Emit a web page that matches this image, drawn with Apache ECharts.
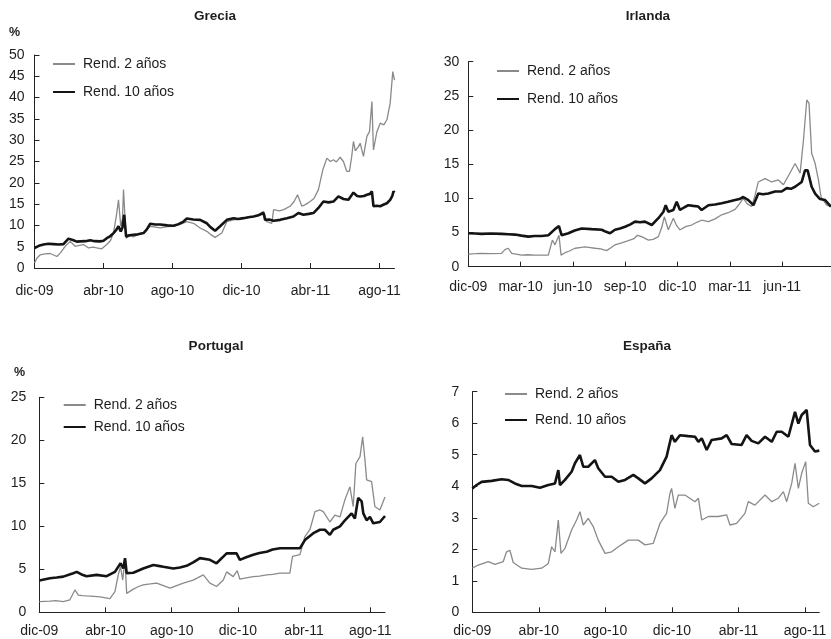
<!DOCTYPE html>
<html>
<head>
<meta charset="utf-8">
<script src="https://cdn.jsdelivr.net/npm/echarts@6/dist/echarts.min.js"></script>
<style>
  html, body { margin: 0; padding: 0; background: #fff; }
  #main { width: 831px; height: 639px; }
</style>
</head>
<body>
<div id="main"></div>
<script>
// x = months since dic-09, y = yield in %
var grecia2 = [[0,1.2],[0.14,2.3],[0.33,3.1],[0.6,3.3],[0.91,3.4],[1.3,2.7],[1.49,3.5],[1.78,5.1],[2.07,6.25],[2.36,5.1],[2.6,5.3],[2.84,5.5],[3.13,4.7],[3.4,4.9],[3.61,4.7],[3.9,4.5],[4.19,5.5],[4.4,6.4],[4.58,8.2],[4.77,12.9],[4.87,16.0],[5.0,9.8],[5.1,11.5],[5.16,18.4],[5.31,7.0],[5.5,7.6],[5.74,7.3],[6.0,7.9],[6.32,8.2],[6.71,9.8],[7.0,9.6],[7.29,9.4],[7.7,9.7],[8.06,9.8],[8.4,10.2],[8.83,10.9],[9.22,10.5],[9.6,9.4],[9.99,8.6],[10.2,7.9],[10.47,7.2],[10.86,8.2],[11.15,10.9],[11.54,11.3],[11.8,11.4],[12.12,11.7],[12.4,11.9],[12.7,12.1],[13.0,12.6],[13.28,13.3],[13.47,10.9],[13.76,10.5],[13.86,13.7],[14.2,13.4],[14.44,13.7],[14.82,14.5],[15.05,15.6],[15.25,17.2],[15.5,14.5],[15.75,15.0],[15.98,15.6],[16.2,16.3],[16.46,18.4],[16.71,23.0],[16.95,25.8],[17.15,25.0],[17.33,25.4],[17.5,24.9],[17.72,26.0],[17.91,25.0],[18.1,22.7],[18.26,22.7],[18.39,26.2],[18.49,29.7],[18.6,27.5],[18.78,28.5],[18.88,29.3],[19.07,26.2],[19.27,30.9],[19.42,32.0],[19.56,39.1],[19.65,27.7],[19.85,32.0],[20.04,34.0],[20.25,33.6],[20.43,34.8],[20.62,38.7],[20.77,46.1],[20.87,44.1]];
var grecia10 = [[0,4.7],[0.25,5.2],[0.52,5.5],[0.8,5.7],[1.1,5.6],[1.4,5.5],[1.68,5.6],[1.97,6.9],[2.26,6.5],[2.45,6.2],[2.65,6.25],[2.95,6.3],[3.23,6.5],[3.5,6.3],[3.81,6.25],[4.0,6.4],[4.19,7.0],[4.4,7.5],[4.58,8.2],[4.75,9.0],[4.87,9.8],[5.0,8.6],[5.1,9.5],[5.2,12.5],[5.31,7.4],[5.5,7.7],[5.74,7.8],[6.0,7.9],[6.32,8.2],[6.5,9.0],[6.71,10.4],[7.0,10.2],[7.29,10.2],[7.7,10.0],[8.06,9.9],[8.35,10.3],[8.64,10.9],[8.83,11.6],[9.2,11.4],[9.6,11.3],[9.99,10.5],[10.2,9.6],[10.47,8.75],[10.76,9.8],[11.15,11.3],[11.54,11.7],[11.8,11.5],[12.12,11.7],[12.4,11.9],[12.7,12.1],[13.0,12.4],[13.28,12.9],[13.37,11.3],[13.6,11.4],[13.86,11.1],[14.24,11.3],[14.63,11.7],[15.01,12.1],[15.3,12.9],[15.59,12.5],[15.9,12.7],[16.17,12.9],[16.46,14.1],[16.75,15.6],[17.05,15.4],[17.33,15.6],[17.62,16.8],[17.91,16.2],[18.2,16.0],[18.49,17.7],[18.7,16.9],[18.88,16.8],[19.1,16.9],[19.27,17.2],[19.45,17.4],[19.56,18.0],[19.65,14.5],[19.85,14.6],[20.04,14.5],[20.25,14.9],[20.43,15.2],[20.62,16.0],[20.75,17.0],[20.81,18.0],[20.87,17.7]];

var irlanda2 = [[0,1.85],[0.4,1.9],[0.76,1.95],[1.3,1.9],[1.91,1.95],[2.1,2.5],[2.29,2.7],[2.49,1.95],[3.06,1.7],[3.4,1.75],[3.82,1.7],[4.2,1.7],[4.59,1.7],[4.82,3.9],[4.97,3.2],[5.2,4.6],[5.32,1.7],[5.55,2.05],[5.8,2.3],[6.12,2.7],[6.4,2.8],[6.69,2.9],[7.0,2.8],[7.27,2.7],[7.6,2.6],[7.93,2.35],[8.2,2.8],[8.41,3.2],[8.8,3.5],[9.18,3.8],[9.5,4.1],[9.7,4.6],[9.94,4.4],[10.33,3.9],[10.6,4.0],[10.9,4.4],[11.1,5.8],[11.24,7.3],[11.47,5.4],[11.76,7.1],[11.95,6.0],[12.14,5.4],[12.5,5.9],[12.81,6.1],[13.1,6.5],[13.38,6.8],[13.77,6.6],[14.15,7.0],[14.53,7.6],[14.9,7.9],[15.3,8.4],[15.55,9.2],[15.77,10.0],[16.0,9.2],[16.25,8.8],[16.45,10.5],[16.63,12.4],[17.02,12.9],[17.4,12.4],[17.78,12.7],[18.07,12.0],[18.4,13.5],[18.74,15.1],[19.03,13.7],[19.12,16.0],[19.22,18.5],[19.41,24.4],[19.54,23.9],[19.69,16.6],[19.89,15.1],[20.08,12.7],[20.23,10.2],[20.55,9.0],[20.8,8.8]];
var irlanda10 = [[0,4.9],[0.4,4.85],[0.76,4.8],[1.3,4.85],[1.91,4.8],[2.3,4.75],[2.68,4.7],[3.05,4.55],[3.44,4.4],[3.8,4.5],[4.21,4.5],[4.59,4.6],[4.97,5.5],[5.2,5.95],[5.35,4.6],[5.74,4.9],[6.1,5.3],[6.5,5.6],[7.07,5.5],[7.65,5.4],[7.9,5.1],[8.13,4.9],[8.41,5.4],[8.7,5.6],[8.99,5.85],[9.3,6.2],[9.56,6.6],[9.85,6.5],[10.13,6.6],[10.52,6.1],[10.9,7.1],[11.19,8.05],[11.32,9.0],[11.47,8.05],[11.76,8.3],[11.95,9.5],[12.14,8.3],[12.4,8.7],[12.62,9.0],[12.9,8.9],[13.19,8.8],[13.38,8.3],[13.77,9.0],[14.15,9.1],[14.53,9.3],[14.9,9.5],[15.3,9.75],[15.55,9.9],[15.77,10.2],[16.06,9.75],[16.35,9.0],[16.63,10.7],[16.9,10.6],[17.21,10.7],[17.59,11.0],[17.97,11.0],[18.26,11.5],[18.5,11.4],[18.74,11.7],[19.12,12.4],[19.31,14.1],[19.46,14.1],[19.69,11.7],[19.89,10.7],[20.17,9.9],[20.46,9.75],[20.8,8.8]];

var portugal2 = [[0,1.25],[0.64,1.3],[1.0,1.35],[1.45,1.25],[1.85,1.45],[2.15,2.6],[2.36,2.0],[2.6,1.95],[2.86,1.9],[3.3,1.85],[3.67,1.8],[4.27,1.6],[4.57,2.4],[4.77,4.35],[4.91,5.3],[5.04,3.75],[5.18,6.1],[5.28,2.2],[5.68,2.7],[6.0,3.0],[6.28,3.2],[6.7,3.3],[7.09,3.4],[7.5,3.1],[7.9,2.8],[8.3,3.1],[8.7,3.4],[9.3,3.75],[9.91,4.35],[10.31,3.4],[10.71,3.0],[11.12,3.75],[11.32,4.7],[11.72,4.15],[11.96,4.85],[12.12,3.85],[12.5,4.0],[12.93,4.15],[13.3,4.2],[13.74,4.35],[14.1,4.4],[14.54,4.55],[15.14,4.55],[15.3,6.5],[15.75,6.7],[16.05,8.8],[16.35,9.6],[16.66,11.7],[16.96,11.9],[17.16,11.7],[17.56,10.5],[17.86,11.3],[18.17,11.1],[18.47,13.1],[18.77,14.6],[18.97,12.3],[19.13,17.3],[19.38,18.1],[19.54,20.4],[19.68,17.7],[19.78,15.4],[20.08,15.2],[20.28,12.3],[20.58,11.9],[20.89,13.4]];
var portugal10 = [[0,3.7],[0.64,3.95],[1.05,4.05],[1.45,4.15],[2.05,4.55],[2.26,4.7],[2.55,4.4],[2.86,4.2],[3.46,4.35],[4.07,4.2],[4.57,4.7],[4.91,5.7],[5.08,5.1],[5.18,6.3],[5.28,4.55],[5.68,4.6],[6.28,5.1],[6.89,5.5],[7.2,5.4],[7.49,5.3],[8.1,5.1],[8.5,5.2],[8.9,5.4],[9.3,5.8],[9.71,6.3],[10.31,6.1],[10.71,5.7],[11.32,6.85],[11.92,6.85],[12.12,6.1],[12.5,6.4],[12.93,6.7],[13.3,6.9],[13.74,7.05],[14.1,7.3],[14.54,7.45],[15.35,7.45],[15.75,7.45],[16.05,8.4],[16.56,9.2],[16.96,9.6],[17.26,9.6],[17.56,9.0],[17.76,9.6],[18.17,10.0],[18.47,10.7],[18.87,11.5],[19.07,10.9],[19.27,13.3],[19.48,12.9],[19.58,11.5],[19.78,10.7],[19.98,11.1],[20.18,10.35],[20.58,10.5],[20.89,11.2]];

var espana2 = [[0,1.4],[0.36,1.5],[0.96,1.61],[1.36,1.52],[1.86,1.61],[2.06,1.92],[2.26,1.97],[2.46,1.58],[2.97,1.4],[3.57,1.36],[4.17,1.4],[4.57,1.55],[4.77,2.08],[4.97,1.92],[5.17,2.93],[5.33,1.87],[5.57,2.03],[5.97,2.61],[6.27,2.93],[6.47,3.19],[6.67,2.77],[6.97,2.98],[7.27,2.72],[7.57,2.29],[7.98,1.87],[8.38,1.92],[8.78,2.08],[9.38,2.29],[9.98,2.29],[10.38,2.14],[10.88,2.19],[11.28,2.82],[11.68,3.14],[11.88,3.77],[11.98,3.93],[12.18,3.3],[12.38,3.72],[12.78,3.72],[13.39,3.51],[13.59,3.62],[13.79,2.93],[14.19,3.04],[14.79,3.04],[15.29,3.09],[15.49,2.77],[15.89,2.82],[16.39,3.14],[16.59,3.51],[16.99,3.4],[17.6,3.72],[18.0,3.51],[18.4,3.62],[18.7,3.83],[18.9,3.51],[19.2,4.09],[19.4,4.73],[19.6,3.93],[19.8,4.41],[20.04,4.78],[20.2,3.46],[20.5,3.35],[20.86,3.46]];
var espana10 = [[0,3.93],[0.26,4.04],[0.56,4.14],[1.16,4.17],[1.76,4.22],[2.16,4.2],[2.56,4.09],[2.97,4.01],[3.57,4.01],[4.07,3.95],[4.57,4.04],[4.97,4.09],[5.17,4.51],[5.27,4.04],[5.57,4.2],[5.97,4.46],[6.17,4.73],[6.47,4.99],[6.67,4.62],[6.97,4.62],[7.37,4.83],[7.57,4.57],[7.98,4.3],[8.38,4.3],[8.78,4.14],[9.18,4.2],[9.68,4.36],[9.98,4.25],[10.38,4.09],[10.78,4.25],[11.28,4.51],[11.68,4.94],[11.98,5.62],[12.18,5.41],[12.48,5.62],[12.99,5.59],[13.39,5.57],[13.59,5.41],[13.79,5.52],[14.09,5.15],[14.39,5.47],[14.99,5.52],[15.29,5.62],[15.59,5.34],[16.19,5.31],[16.49,5.62],[16.79,5.44],[17.19,5.36],[17.6,5.57],[18.0,5.41],[18.3,5.73],[18.6,5.73],[19.0,5.57],[19.4,6.36],[19.6,5.99],[19.8,6.26],[20.1,6.42],[20.3,5.31],[20.6,5.1],[20.86,5.13]];

var ticks4 = [0, 4, 8, 12, 16, 20];
var labels4 = ['dic-09', 'abr-10', 'ago-10', 'dic-10', 'abr-11', 'ago-11'];
var ticks3 = [0, 3, 6, 9, 12, 15, 18];
var labels3 = ['dic-09', 'mar-10', 'jun-10', 'sep-10', 'dic-10', 'mar-11', 'jun-11'];

var FONT = 'Liberation Sans, Arial, sans-serif';
var GRAY = '#8a8a8a';
var BLACK = '#141414';
var TXT = '#1e1e1e';

var panels = [
  { name: 'Grecia', s2: grecia2, s10: grecia10, ticks: ticks4, labels: labels4, xmax: 20.87, ymax: 50, yint: 5,
    grid: { left: 34.5, top: 55, width: 360, height: 213 }, lblMargin: 16, yMargin: 10,
    title: [215, 9], pct: [9, 26], legend: { left: 52, top: 57, itemGap: 14 } },
  { name: 'Irlanda', s2: irlanda2, s10: irlanda10, ticks: ticks3, labels: labels3, xmax: 20.8, ymax: 30, yint: 5,
    grid: { left: 468.3, top: 61.7, width: 362.7, height: 205 }, lblMargin: 13, yMargin: 9,
    title: [648, 9], pct: null, legend: { left: 496, top: 64, itemGap: 14 } },
  { name: 'Portugal', s2: portugal2, s10: portugal10, ticks: ticks4, labels: labels4, xmax: 20.89, ymax: 25, yint: 5,
    grid: { left: 39.3, top: 397.3, width: 345.7, height: 215 }, lblMargin: 12, yMargin: 13,
    title: [216, 339], pct: [14, 366], legend: { left: 62.7, top: 398, itemGap: 8 } },
  { name: 'España', s2: espana2, s10: espana10, ticks: ticks4, labels: labels4, xmax: 20.86, ymax: 7, yint: 1,
    grid: { left: 472.3, top: 391.7, width: 347, height: 220.6 }, lblMargin: 12, yMargin: 13,
    title: [647, 339], pct: null, legend: { left: 504, top: 387, itemGap: 12 } }
];

var option = {
  animation: false,
  backgroundColor: '#fff',
  title: [], legend: [], grid: [], xAxis: [], yAxis: [], series: []
};

panels.forEach(function (p, i) {
  option.title.push({
    text: p.name, left: p.title[0], top: p.title[1], textAlign: 'center', padding: 0,
    textStyle: { fontFamily: FONT, fontSize: 13.5, fontWeight: 'bold', color: TXT }
  });
  if (p.pct) {
    option.title.push({
      text: '%', left: p.pct[0], top: p.pct[1], padding: 0,
      textStyle: { fontFamily: FONT, fontSize: 12.5, fontWeight: 'bold', color: TXT }
    });
  }
  option.grid.push(p.grid);
  option.legend.push({
    left: p.legend.left, top: p.legend.top, orient: 'vertical', itemGap: p.legend.itemGap,
    itemWidth: 22, itemHeight: 14, selectedMode: false, padding: 0,
    itemStyle: { opacity: 0 },
    textStyle: { fontFamily: FONT, fontSize: 14, color: TXT, padding: [0, 0, 0, 3] },
    data: ['Rend. 2 años', 'Rend. 10 años']
  });
  var ticks = p.ticks, labels = p.labels;
  option.xAxis.push({
    type: 'value', gridIndex: i, min: 0, max: p.xmax,
    splitLine: { show: false },
    axisLine: { show: true, lineStyle: { color: '#222', width: 1 } },
    axisTick: { show: true, inside: true, length: 5, customValues: ticks, lineStyle: { color: '#222' } },
    axisLabel: {
      customValues: ticks, margin: p.lblMargin, color: TXT, fontFamily: FONT, fontSize: 14,
      formatter: function (v) { return labels[ticks.indexOf(v)] || ''; }
    }
  });
  option.yAxis.push({
    type: 'value', gridIndex: i, min: 0, max: p.ymax, interval: p.yint,
    splitLine: { show: false },
    axisLine: { show: true, lineStyle: { color: '#222', width: 1 } },
    axisTick: { show: true, inside: true, length: 5, lineStyle: { color: '#222' } },
    axisLabel: { margin: p.yMargin, color: TXT, fontFamily: FONT, fontSize: 14 }
  });
  option.series.push({
    name: 'Rend. 2 años', type: 'line', xAxisIndex: i, yAxisIndex: i,
    data: p.s2, symbol: 'none', lineStyle: { color: GRAY, width: 1.3 }, itemStyle: { color: GRAY }
  });
  option.series.push({
    name: 'Rend. 10 años', type: 'line', xAxisIndex: i, yAxisIndex: i,
    data: p.s10, symbol: 'none', lineStyle: { color: BLACK, width: 2.6 }, itemStyle: { color: BLACK }
  });
});

var chart = echarts.init(document.getElementById('main'), null, { renderer: 'canvas' });
chart.setOption(option);
</script>
</body>
</html>
